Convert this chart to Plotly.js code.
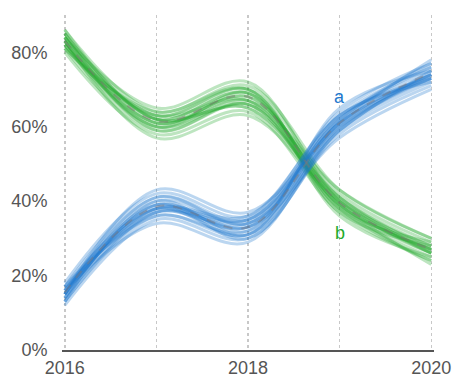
<!DOCTYPE html>
<html>
<head>
<meta charset="utf-8">
<script src="https://cdn.plot.ly/plotly-3.0.1.min.js"></script>
<style>html,body{margin:0;padding:0;background:#fff;}#chart{width:456px;height:381px;}</style>
</head>
<body>
<div id="chart"></div>
<script>
var years = [2016, 2017, 2018, 2019, 2020];
var tickLabels = ['2016', '', '2018', '', '2020'];
var yTicks = [0, 20, 40, 60, 80];
var yTickLabels = ['0%', '20%', '40%', '60%', '80%'];

var drawsA = [
  [15, 38, 33, 61, 74],
  [13, 36, 31, 59, 72],
  [17, 41, 35, 63, 76],
  [14, 39, 32, 60, 73],
  [16, 37, 34, 62, 75],
  [12, 35, 30, 58, 71],
  [18, 42, 36, 64, 77],
  [15, 40, 31, 61, 74],
  [16, 38, 35, 60, 73],
  [14, 37, 33, 62, 76],
  [13, 40, 34, 59, 75],
  [17, 36, 32, 63, 72],
  [15, 43, 37, 61, 78],
  [16, 34, 29, 60, 74],
  [14, 39, 33, 57, 70],
  [17, 38, 31, 65, 75],
  [15, 41, 34, 61, 73],
  [13, 37, 35, 62, 77],
  [16, 39, 30, 59, 74],
  [15, 38, 36, 63, 73]
];
var drawsB = [
  [83, 61, 68, 40, 27],
  [85, 63, 70, 42, 29],
  [81, 59, 66, 38, 25],
  [84, 62, 69, 39, 26],
  [82, 60, 67, 41, 28],
  [86, 64, 71, 43, 30],
  [80, 58, 64, 37, 24],
  [83, 60, 69, 39, 27],
  [84, 62, 65, 40, 26],
  [82, 63, 67, 38, 24],
  [85, 59, 66, 41, 27],
  [81, 64, 70, 37, 28],
  [83, 57, 63, 39, 23],
  [84, 65, 72, 40, 26],
  [82, 61, 67, 43, 30],
  [86, 62, 69, 36, 25],
  [83, 60, 66, 39, 27],
  [81, 63, 70, 38, 29],
  [84, 61, 68, 41, 26],
  [85, 62, 65, 40, 28]
];
var medianA = [15.5, 38.5, 33, 61, 74.5];
var medianB = [83, 61.5, 68, 39.5, 27];

var blue = 'rgba(30,120,205,0.3)';
var green = 'rgba(35,170,45,0.3)';

var traces = [];
drawsB.forEach(function (d) {
  traces.push({x: years, y: d, mode: 'lines', line: {color: green, width: 3, shape: 'spline'}, hoverinfo: 'skip', showlegend: false});
});
drawsA.forEach(function (d) {
  traces.push({x: years, y: d, mode: 'lines', line: {color: blue, width: 3, shape: 'spline'}, hoverinfo: 'skip', showlegend: false});
});
traces.push({x: years, y: medianB, mode: 'lines', line: {color: 'rgba(120,120,110,0.5)', width: 2, dash: 'dash', shape: 'spline'}, showlegend: false});
traces.push({x: years, y: medianA, mode: 'lines', line: {color: 'rgba(120,120,130,0.5)', width: 2, dash: 'dash', shape: 'spline'}, showlegend: false});

var font = {family: 'Liberation Sans, Arial, sans-serif', size: 18, color: '#555'};
var layout = {
  width: 456, height: 381,
  margin: {l: 62, r: 22, t: 15, b: 31},
  paper_bgcolor: '#fff', plot_bgcolor: '#fff',
  showlegend: false,
  font: font,
  xaxis: {
    range: [2015.97, 2020.03],
    tickvals: years, ticktext: tickLabels,
    showgrid: true, gridcolor: '#c8c8c8', gridwidth: 1.5, griddash: 'dot',
    zeroline: false, showline: true, linecolor: '#555', linewidth: 2,
    ticks: '', ticklen: 0, tickfont: font, fixedrange: true
  },
  yaxis: {
    range: [0, 90],
    tickvals: yTicks, ticktext: yTickLabels,
    showgrid: false, zeroline: false, showline: false,
    ticks: 'outside', ticklen: 10, tickcolor: 'rgba(0,0,0,0)',
    tickfont: font, fixedrange: true
  },
  annotations: [
    {x: 2019, y: 68, text: 'a', showarrow: false, font: {family: font.family, size: 18, color: 'rgb(30,120,205)'}},
    {x: 2019, y: 31.5, text: 'b', showarrow: false, font: {family: font.family, size: 18, color: 'rgb(35,170,45)'}}
  ]
};
Plotly.newPlot('chart', traces, layout, {displayModeBar: false, staticPlot: true});
</script>
</body>
</html>
